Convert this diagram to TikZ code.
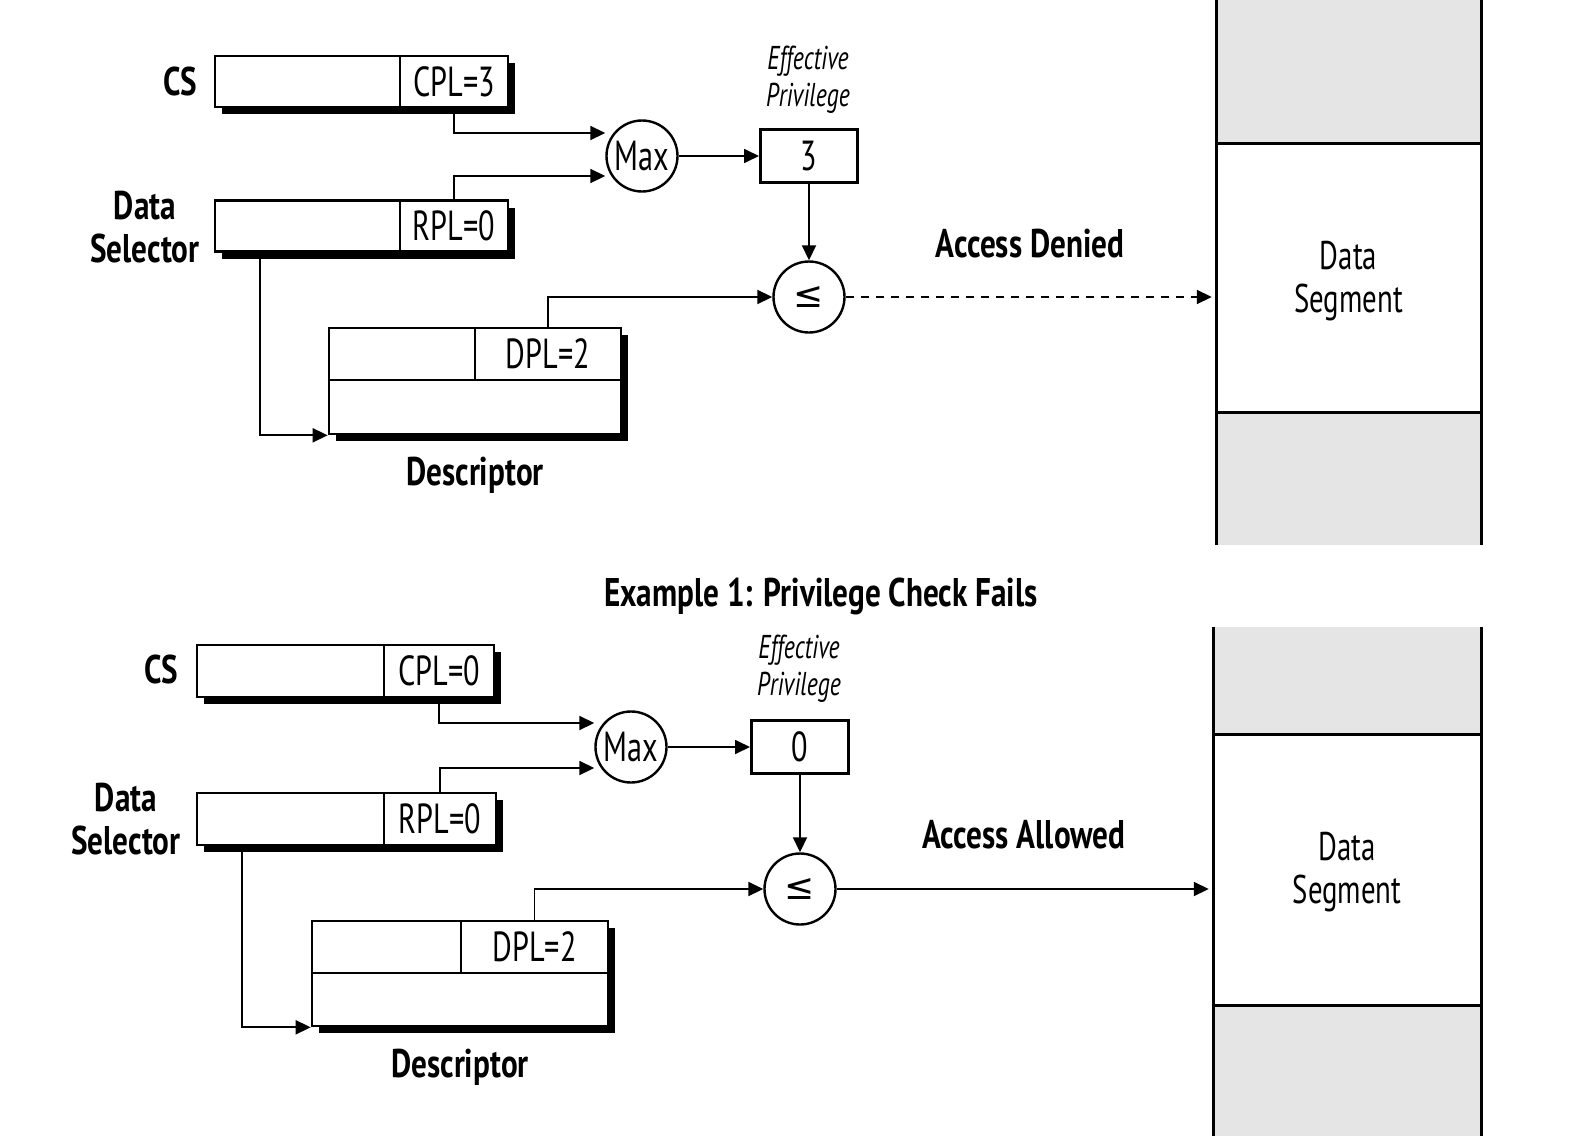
\documentclass[tikz,border=0pt]{standalone}
\usepackage{fontspec}
\setmainfont[FakeStretch=0.72, BoldFeatures={FakeStretch=0.78}]{PT Sans}
\newfontfamily\symf{DejaVu Sans}
\usetikzlibrary{arrows.meta,calc,shadows}
\definecolor{seggray}{RGB}{229,229,229}
\begin{document}
\begin{tikzpicture}[x=1pt,y=-1pt,
  reg/.style={draw, line width=2.6pt, fill=white, inner sep=0pt,
    drop shadow={shadow xshift=7pt, shadow yshift=-7pt, fill=black, opacity=1}},
  field/.style={inner sep=0pt, font=\fontsize{42}{46}\selectfont},
  thinl/.style={line width=1.6pt},
  lbl/.style={inner sep=0pt, font=\fontsize{40}{43}\selectfont\bfseries, align=center},
  itl/.style={inner sep=0pt, font=\fontsize{33}{37}\selectfont\itshape, align=center},
  opc/.style={draw, circle, line width=2.4pt, minimum size=71pt, inner sep=0pt, fill=white, font=\fontsize{42}{46}\selectfont},
  effbox/.style={draw, line width=3pt, minimum width=97pt, minimum height=53pt, inner sep=0pt, font=\fontsize{42}{46}\selectfont},
  arr/.style={line width=1.8pt, -{Triangle[length=15pt,width=14pt]}},
  seg/.style={inner sep=0pt, minimum width=265pt, font=\fontsize{40}{43}\selectfont, align=center},
  colline/.style={line width=3pt}]
\useasboundingbox (0,0) rectangle (1574,1135);

% ================= Top example =================
% data segment column
\fill[seggray] (1216,-5) rectangle (1481,545);
\node[seg, fill=white, minimum height=268pt] (seg1) at (1348.5,278) {};
\node[seg] (seg1t) at (1348.5,281) {Data\\Segment};
\draw[colline] (seg1.north west) -- (seg1.north east);
\draw[colline] (seg1.south west) -- (seg1.south east);
\draw[colline] (1216,-5) -- (1216,545);
\draw[colline] (1481,-5) -- (1481,545);

% CS register
\node[lbl] (cslbl) at (180,81) {CS};
\node[reg, minimum width=293pt, minimum height=51pt] (cs) at (361.5,81.5) {};
\node[field, minimum width=108pt, minimum height=51pt] (cpl) at (454,81.5) {CPL=3};
\draw[thinl] (cpl.north west) -- (cpl.south west);

% Data selector
\node[lbl] (dslbl) at (145,227) {Data\\Selector};
\node[reg, minimum width=293pt, minimum height=51pt] (ds) at (361.5,226) {};
\node[field, minimum width=108pt, minimum height=51pt] (rpl) at (454,226) {RPL=0};
\draw[thinl] (rpl.north west) -- (rpl.south west);

% Descriptor
\node[reg, minimum width=292pt, minimum height=106pt] (desc) at (475,381) {};
\node[field, minimum width=146pt, minimum height=52pt] (dpl) at (548,354) {DPL=2};
\draw[thinl] (dpl.north west) -- (dpl.south west);
\draw[thinl] (desc.west |- dpl.south) -- (dpl.south east);
\node[lbl, anchor=base] (desclbl) at (475,485) {Descriptor};

% Max, effective privilege, compare
\node[opc] (max1) at (642,156) {Max};
\node[itl] (eff1) at (808,80) {Effective\\Privilege};
\node[effbox] (ep1) at (809,156) {3};
\node[opc] (le1) at (809,297) {\symf\fontsize{36}{40}\selectfont ≤};
\node[lbl] (deny) at (1030,244) {Access Denied};

\draw[arr] (cpl.south) |- ($(max1.west)+(0,-23)$);
\draw[arr] (rpl.north) |- ($(max1.west)+(0,20)$);
\draw[arr] (max1.east) -- (ep1.west);
\draw[arr] (ep1.south) -- (le1.north);
\draw[arr] (dpl.north) |- (le1.west);
\draw[arr] ($(ds.south west)+(46,0)$) |- (desc.south west);
\draw[arr, dash pattern=on 8pt off 7pt, shorten >=4pt] (le1.east) -- (seg1.west |- le1.east);

% title
\node[lbl, anchor=base] (title) at (821,606) {Example 1: Privilege Check Fails};

% ================= Bottom example =================
\fill[seggray] (1213,627) rectangle (1481,1140);
\node[seg, fill=white, minimum height=270pt, minimum width=268pt] (seg2) at (1347,870) {};
\node[seg] (seg2t) at (1347,872) {Data\\Segment};
\draw[colline] (seg2.north west) -- (seg2.north east);
\draw[colline] (seg2.south west) -- (seg2.south east);
\draw[colline] (1213,627) -- (1213,1140);
\draw[colline] (1481,627) -- (1481,1140);

\node[lbl] (cslbl2) at (161,669) {CS};
\node[reg, minimum width=297pt, minimum height=52pt] (cs2) at (345.5,671) {};
\node[field, minimum width=110pt, minimum height=52pt] (cpl2) at (439,671) {CPL=0};
\draw[thinl] (cpl2.north west) -- (cpl2.south west);

\node[lbl] (dslbl2) at (126,819) {Data\\Selector};
\node[reg, minimum width=299pt, minimum height=52pt] (ds2) at (346.5,819) {};
\node[field, minimum width=112pt, minimum height=52pt] (rpl2) at (440,819) {RPL=0};
\draw[thinl] (rpl2.north west) -- (rpl2.south west);

\node[reg, minimum width=296pt, minimum height=105pt] (desc2) at (460,973.5) {};
\node[field, minimum width=147pt, minimum height=52pt] (dpl2) at (534.5,947) {DPL=2};
\draw[thinl] (dpl2.north west) -- (dpl2.south west);
\draw[thinl] (desc2.west |- dpl2.south) -- (dpl2.south east);
\node[lbl, anchor=base] (desclbl2) at (460,1077) {Descriptor};

\node[opc] (max2) at (631,747) {Max};
\node[itl] (eff2) at (799,669) {Effective\\Privilege};
\node[effbox] (ep2) at (800,747) {0};
\node[opc] (le2) at (800,889) {\symf\fontsize{36}{40}\selectfont ≤};
\node[lbl] (allow) at (1024,835) {Access Allowed};

\draw[arr] (cpl2.south) |- ($(max2.west)+(0,-24)$);
\draw[arr] (rpl2.north) |- ($(max2.west)+(0,21)$);
\draw[arr] (max2.east) -- (ep2.west);
\draw[arr] (ep2.south) -- (le2.north);
\draw[arr] (dpl2.north) |- (le2.west);
\draw[arr] ($(ds2.south west)+(46,0)$) |- (desc2.south west);
\draw[arr, shorten >=4pt] (le2.east) -- (seg2.west |- le2.east);
\end{tikzpicture}
\end{document}
